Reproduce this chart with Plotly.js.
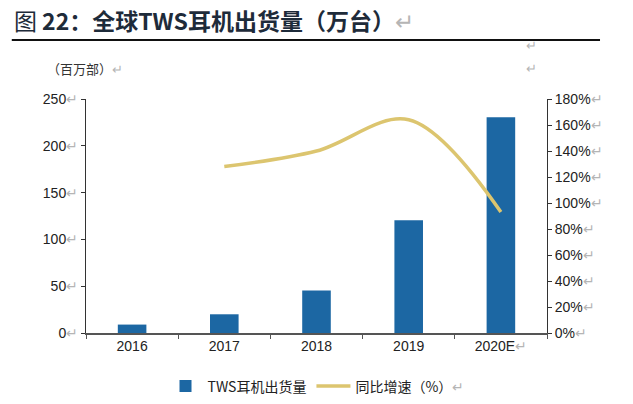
<!DOCTYPE html>
<html>
<head>
<meta charset="utf-8">
<script src="https://cdn.plot.ly/plotly-3.0.1.min.js"></script>
<style>
  html, body { margin: 0; padding: 0; background: #fff; }
  #chart { width: 633px; height: 404px; }
</style>
</head>
<body>
<div id="chart"></div>
<script>
// data
const years = ["2016", "2017", "2018", "2019", "2020E"];
const shipments = [9, 20, 45.5, 120.5, 230.5];          // 百万部
const growth = [null, 1.28, 1.40, 1.64, 0.93];          // 同比增速
const leftTicks = [0, 50, 100, 150, 200, 250];
const rightTicks = [0, 0.2, 0.4, 0.6, 0.8, 1.0, 1.2, 1.4, 1.6, 1.8];

const FONT = "Liberation Sans, Arial, 'Noto Sans CJK SC', sans-serif";
const CJK = "'Noto Sans CJK SC', 'Liberation Sans', sans-serif";
const mark = "<span style='color:#b5b5b5'>↵</span>";

let data = [
    {
        type: "bar",
        name: "TWS耳机出货量",
        x: years,
        y: shipments,
        width: 0.31,
        marker: { color: "#1c67a3" },
        hoverinfo: "x+y"
    },
    {
        type: "scatter",
        mode: "lines",
        name: "同比增速（%）" + mark,
        x: years,
        y: growth,
        yaxis: "y2",
        connectgaps: false,
        line: { color: "#dcc56f", width: 3.5, shape: "spline", smoothing: 1 }
    }
];

let layout = {
    width: 633,
    height: 404,
    margin: { l: 86, r: 86, t: 99, b: 71, autoexpand: false },
    paper_bgcolor: "#fff",
    plot_bgcolor: "#fff",
    font: { family: FONT, size: 14, color: "#222" },
    title: {
        text: "图 <b>22：全球TWS耳机出货量（万台）</b>" + mark,
        font: { family: CJK, size: 23, color: "#1e2b3a" },
        x: 0.022, xanchor: "left",
        y: 0.945, yanchor: "middle"
    },
    showlegend: true,
    legend: {
        orientation: "h",
        x: 0.5, xanchor: "center",
        y: -0.16, yanchor: "top",
        font: { family: CJK, size: 14, color: "#222" },
        itemwidth: 34,
        tracegroupgap: 0
    },
    bargap: 0.69,
    xaxis: {
        type: "category",
        tickmode: "array",
        tickvals: years,
        ticktext: years.map(y => y === "2020E" ? y + mark : y),
        tickson: "boundaries",
        ticks: "outside",
        ticklen: 4,
        tickcolor: "#555",
        showline: true,
        linecolor: "#555",
        linewidth: 1.5,
        showgrid: false,
        zeroline: false,
        tickfont: { size: 14, color: "#222" }
    },
    yaxis: {
        range: [0, 250],
        tickmode: "array",
        tickvals: leftTicks,
        ticktext: leftTicks.map(v => v + mark),
        ticks: "outside",
        ticklen: 4,
        tickcolor: "#333",
        showline: true,
        linecolor: "#333",
        showgrid: false,
        zeroline: false,
        tickfont: { size: 14, color: "#222" }
    },
    yaxis2: {
        overlaying: "y",
        side: "right",
        range: [0, 1.8],
        tickmode: "array",
        tickvals: rightTicks,
        ticktext: rightTicks.map(v => Math.round(v * 100) + "%" + mark),
        ticks: "outside",
        ticklen: 4,
        tickcolor: "#333",
        showline: true,
        linecolor: "#333",
        showgrid: false,
        zeroline: false,
        tickfont: { size: 14, color: "#222" }
    },
    shapes: [
        // rule under the heading
        { type: "line", xref: "paper", yref: "paper",
          x0: -0.161, x1: 1.115, y0: 1.252, y1: 1.252,
          line: { color: "#111", width: 2 } }
    ],
    annotations: [
        { text: "（百万部）" + mark, xref: "paper", yref: "paper",
          x: -0.088, y: 1.13, xanchor: "left", yanchor: "middle",
          showarrow: false, font: { family: CJK, size: 13, color: "#333" } },
        { text: mark, xref: "paper", yref: "paper",
          x: 0.967, y: 1.23, xanchor: "center", yanchor: "middle",
          showarrow: false, font: { size: 13 } },
        { text: mark, xref: "paper", yref: "paper",
          x: 0.967, y: 1.13, xanchor: "center", yanchor: "middle",
          showarrow: false, font: { size: 13 } }
    ]
};

Plotly.newPlot("chart", data, layout, { displayModeBar: false, staticPlot: true });
</script>
</body>
</html>
